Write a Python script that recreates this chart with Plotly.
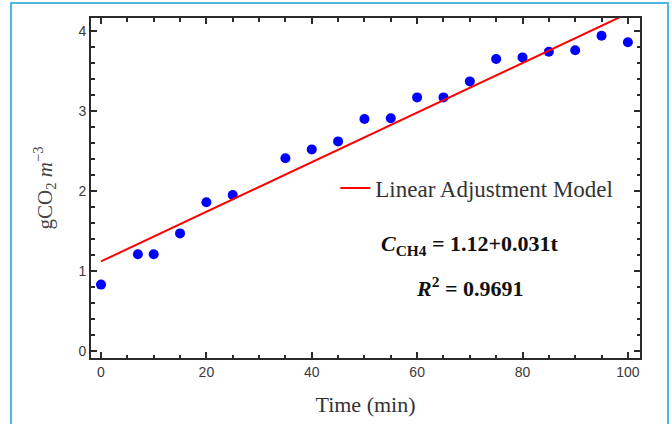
import plotly.graph_objects as go

# Measured CO2 concentration over time
time_min = [0, 7, 10, 15, 20, 25, 35, 40, 45, 50, 55, 60, 65, 70, 75, 80, 85, 90, 95, 100]
conc = [0.83, 1.21, 1.21, 1.47, 1.86, 1.95, 2.41, 2.52, 2.62, 2.90, 2.91, 3.17,
        3.17, 3.37, 3.65, 3.67, 3.74, 3.76, 3.94, 3.86]

# Linear adjustment model: C = a + b*t
intercept = 1.12
slope = 0.031
r_squared = 0.9691
fit_t = [0, 100]
fit_c = [intercept + slope * t for t in fit_t]

x_ticks = [0, 20, 40, 60, 80, 100]
y_ticks = [0, 1, 2, 3, 4]

SERIF = "Liberation Serif, Times New Roman, serif"
SANS = "Liberation Sans, Arial, sans-serif"
FRAME = "#2b2b2b"

fig = go.Figure()

fig.add_trace(go.Scatter(
    x=time_min, y=conc, mode="markers",
    marker=dict(color="#0000ff", size=10),
    showlegend=False,
))

fig.add_trace(go.Scatter(
    x=fit_t, y=fit_c, mode="lines",
    line=dict(color="#ff0000", width=2),
    name="Linear Adjustment Model",
))

axis_common = dict(
    showline=True, linecolor=FRAME, linewidth=2, mirror="ticks",
    ticks="inside", ticklen=6, tickwidth=1.5, tickcolor=FRAME,
    showgrid=False, zeroline=False,
    tickfont=dict(family=SANS, size=14, color="#3a3a3a"),
)

fig.update_xaxes(
    range=[-1.9, 102.3], tickvals=x_ticks,
    minor=dict(dtick=5, ticks="inside", ticklen=3.5, tickwidth=1.5, tickcolor=FRAME),
    title=dict(text="Time (min)", font=dict(family=SERIF, size=22, color="#333333"), standoff=18),
    **axis_common,
)
fig.update_yaxes(
    range=[-0.0875, 4.1625], tickvals=y_ticks,
    minor=dict(dtick=0.2, ticks="inside", ticklen=3.5, tickwidth=1.5, tickcolor=FRAME),
    title=dict(text="gCO<sub>2</sub> <i>m</i><sup>−3</sup>",
               font=dict(family=SERIF, size=21, color="#444444"), standoff=20),
    **axis_common,
)

fig.add_annotation(
    x=70, y=1.33, xref="x", yref="y", showarrow=False,
    text="<b><i>C</i><sub>CH4</sub> = 1.12+0.031t</b>",
    font=dict(family=SERIF, size=22, color="#111111"),
)
fig.add_annotation(
    x=70, y=0.8, xref="x", yref="y", showarrow=False,
    text="<b><i>R</i><sup>2</sup> = 0.9691</b>",
    font=dict(family=SERIF, size=22, color="#111111"),
)

# light blue outer frame
fig.add_shape(
    type="rect", xref="paper", yref="paper",
    x0=-0.1457, x1=1.051, y0=-0.25, y1=1.044,
    line=dict(color="#4db8e0", width=2), fillcolor="rgba(0,0,0,0)", layer="below",
)

fig.update_layout(
    width=672, height=424,
    margin=dict(l=91, r=32, t=18, b=66),
    paper_bgcolor="white", plot_bgcolor="white",
    legend=dict(
        x=0.445, y=0.5, xanchor="left", yanchor="middle",
        font=dict(family=SERIF, size=23, color="#333333"),
        bgcolor="rgba(0,0,0,0)",
    ),
)

fig.write_html("out.html")
